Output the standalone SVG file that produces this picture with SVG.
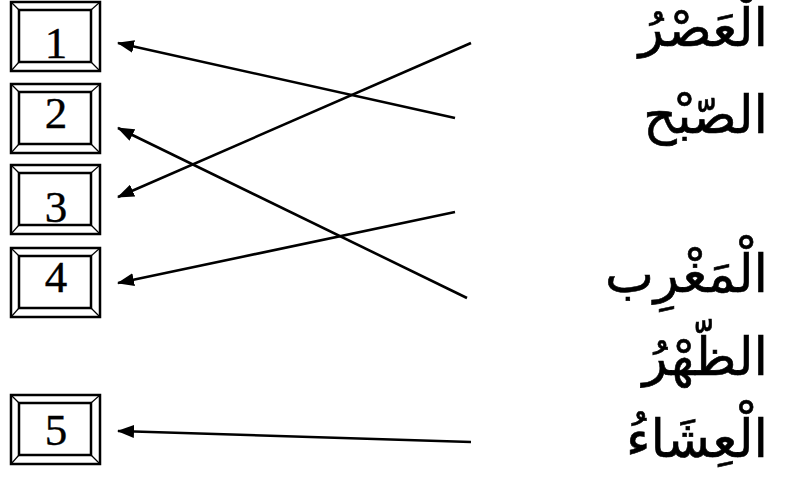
<svg xmlns="http://www.w3.org/2000/svg" width="792" height="479" viewBox="0 0 792 479">
<defs>
<style>
.outer{fill:#fff;stroke:#000;stroke-width:2.5}
.inner{fill:#fff;stroke:#000;stroke-width:2.5}
.bev{stroke:#000;stroke-width:1.2}
.num{font-family:"Liberation Serif","Times New Roman",serif;font-size:45px;fill:#000;stroke:#000;stroke-width:0.4;text-anchor:middle}
.ar{font-family:"DejaVu Sans","Noto Sans",sans-serif;font-size:52px;fill:#000;stroke:#000;stroke-width:0.6;text-anchor:end}
.con{stroke:#000;stroke-width:2.6;fill:none;marker-end:url(#ah)}
</style>
<marker id="ah" markerWidth="17" markerHeight="13" refX="16" refY="6.5" orient="auto" markerUnits="userSpaceOnUse">
<path d="M0,0 L17,6.5 L0,13 Z" fill="#000"/>
</marker>
<g id="box">
<rect class="outer" x="11" y="0" width="89" height="69"/>
<rect class="inner" x="19" y="8" width="72" height="52"/>
<line class="bev" x1="11" y1="0" x2="19" y2="8"/>
<line class="bev" x1="100" y1="0" x2="91" y2="8"/>
<line class="bev" x1="11" y1="69" x2="19" y2="60"/>
<line class="bev" x1="100" y1="69" x2="91" y2="60"/>
</g>
</defs>
<g id="node1"><use href="#box" y="2"/><text class="num" x="56" y="58">1</text></g>
<g id="node2"><use href="#box" y="84"/><text class="num" x="56" y="128">2</text></g>
<g id="node3"><use href="#box" y="165"/><text class="num" x="56" y="222">3</text></g>
<g id="node4"><use href="#box" y="248"/><text class="num" x="56" y="292">4</text></g>
<g id="node5"><use href="#box" y="395"/><text class="num" x="56" y="445">5</text></g>
<g id="w1"><text class="ar" x="768" y="46">الْعَصْرُ</text></g>
<g id="w2"><text class="ar" x="768" y="133">الصّبْح</text></g>
<g id="w3"><text class="ar" x="768" y="292">الْمَغْرِب</text></g>
<g id="w4"><text class="ar" x="768" y="375">الظّهْرُ</text></g>
<g id="w5"><text class="ar" x="768" y="457">الْعِشَاءُ</text></g>
<g id="connectors">
<line class="con" x1="455" y1="118" x2="118" y2="43"/>
<line class="con" x1="471" y1="43" x2="118" y2="197"/>
<line class="con" x1="467" y1="298" x2="118" y2="128"/>
<line class="con" x1="455" y1="212" x2="118" y2="283"/>
<line class="con" x1="471" y1="442" x2="118" y2="431"/>
</g>
</svg>
